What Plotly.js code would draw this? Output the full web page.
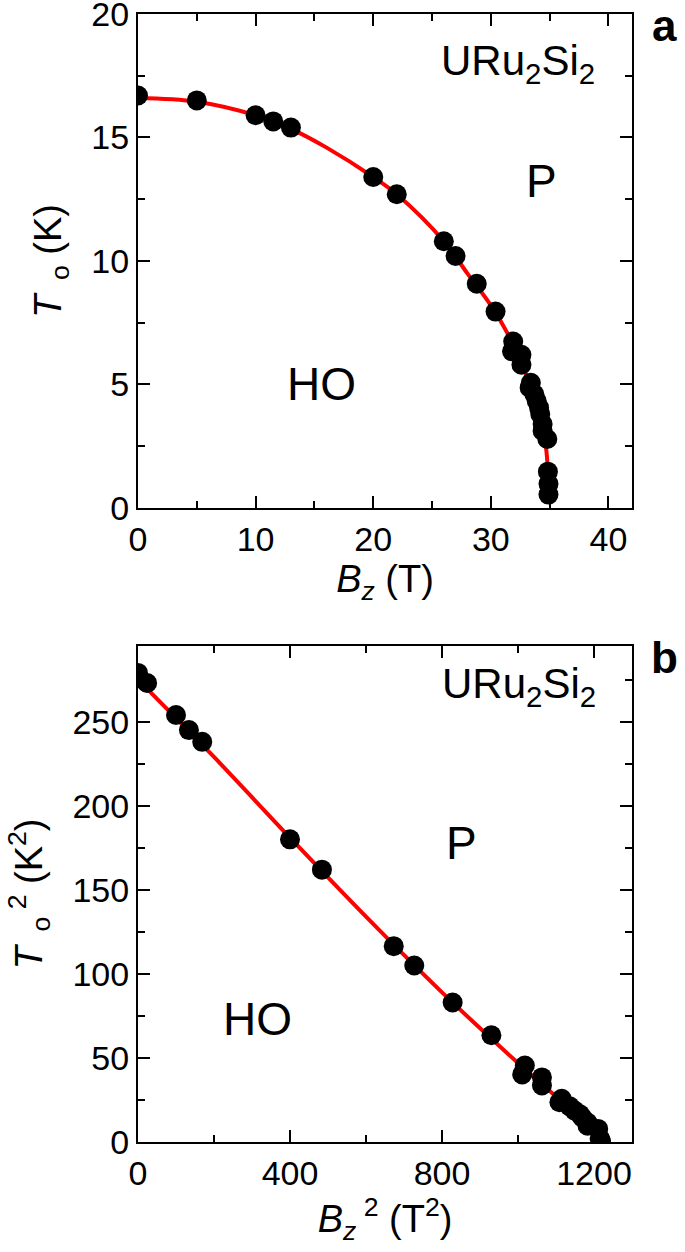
<!DOCTYPE html>
<html>
<head>
<meta charset="utf-8">
<script src="https://cdn.plot.ly/plotly-3.0.1.min.js"></script>
<style>
  html, body { margin: 0; padding: 0; background: #fff; }
  #chart { width: 685px; height: 1252px; }
</style>
</head>
<body>
<div id="chart"></div>
<script>
// Panel a: T_o gegen B_z (Punkte)
var bz = [0, 5, 10, 11.5, 13, 20, 22, 26, 27, 28.8, 30.4, 31.9, 31.8, 32.6, 32.6,
          33.4, 33.3, 33.7, 33.9, 34.1, 34.2, 34.4, 34.4, 34.8, 34.85, 34.9, 34.9];
var tO = [16.7, 16.5, 15.9, 15.65, 15.4, 13.4, 12.7, 10.8, 10.2, 9.08, 7.95, 6.74, 6.34, 6.2, 5.8,
          5.07, 4.87, 4.6, 4.33, 4.06, 3.8, 3.4, 3.12, 2.79, 1.47, 0.98, 0.54];
var fitBz = [0, 5, 10, 13, 16, 20, 22, 26, 28, 30, 31.5, 32.5, 33.3, 33.9, 34.4, 34.7, 34.85, 34.95];
var fitT  = [16.6, 16.45, 15.9, 15.35, 14.6, 13.4, 12.7, 10.8, 9.5, 8.2, 7.0, 6.0, 5.0, 4.2, 3.2, 2.4, 1.5, 0.5];

// Panel b: T_o^2 gegen B_z^2
var bz2 = [0, 24, 100, 134, 169, 400, 484, 673, 727, 828, 930, 1018, 1011, 1063, 1063,
           1115, 1109, 1136, 1149, 1163, 1170, 1183, 1183, 1211, 1215, 1218, 1218];
var tO2 = [279, 273, 254, 245, 238, 180, 162, 116.5, 105, 83, 63.5, 45.5, 40.2, 38.4, 33.6,
           25.7, 23.7, 21.2, 18.7, 16.5, 14.4, 11.6, 9.7, 7.8, 2.2, 1.0, 0.3];
var fitBz2 = [0, 200, 400, 600, 800, 1000, 1100, 1225];
var fitT2  = [275, 229, 181, 134, 89, 47, 27, 0];

var fontFam = 'Liberation Sans, Arial, sans-serif';

var traces = [
  { x: fitBz, y: fitT, mode: 'lines', line: { color: '#ff0000', width: 4, shape: 'spline' },
    xaxis: 'x', yaxis: 'y', hoverinfo: 'skip' },
  { x: bz, y: tO, mode: 'markers', marker: { color: '#000', size: 20 },
    xaxis: 'x', yaxis: 'y' },
  { x: fitBz2, y: fitT2, mode: 'lines', line: { color: '#ff0000', width: 4, shape: 'spline' },
    xaxis: 'x2', yaxis: 'y2', hoverinfo: 'skip' },
  { x: bz2, y: tO2, mode: 'markers', marker: { color: '#000', size: 20 },
    xaxis: 'x2', yaxis: 'y2' }
];

function achse(extra) {
  var a = {
    showline: true, linecolor: '#000', linewidth: 2, mirror: 'allticks',
    ticks: 'inside', ticklen: 12, tickwidth: 2, tickcolor: '#000',
    showgrid: false, zeroline: false, automargin: false,
    ticklabeloverflow: 'allow',
    tickfont: { family: fontFam, size: 34, color: '#000' }
  };
  for (var k in extra) a[k] = extra[k];
  return a;
}

var titelFont = { family: fontFam, size: 38, color: '#000' };

var layout = {
  width: 685, height: 1252,
  margin: { l: 138, r: 53, t: 14, b: 110 },
  showlegend: false,
  paper_bgcolor: '#fff', plot_bgcolor: '#fff',
  xaxis: achse({ domain: [0, 1], range: [0, 42], dtick: 10, tick0: 0, anchor: 'y',
    minor: { dtick: 5, ticks: 'inside', ticklen: 7, tickwidth: 2, tickcolor: '#000' },
    title: { text: '<i>B<sub>z</sub></i> (T)', font: titelFont, standoff: 0 } }),
  yaxis: achse({ domain: [0.5621, 1], range: [0, 20], tickvals: [0, 5, 10, 15, 20], anchor: 'x',
    minor: { dtick: 2.5, ticks: 'inside', ticklen: 7, tickwidth: 2, tickcolor: '#000' },
    title: { text: '<i>T</i><sub>  o</sub> (K)', font: titelFont, standoff: 18 } }),
  xaxis2: achse({ domain: [0, 1], range: [0, 1300], dtick: 400, tick0: 0, anchor: 'y2',
    minor: { dtick: 200, ticks: 'inside', ticklen: 7, tickwidth: 2, tickcolor: '#000' },
    title: { text: '<i>B<sub>z</sub></i><sup> 2</sup> (T<sup>2</sup>)', font: titelFont, standoff: 0 } }),
  yaxis2: achse({ domain: [0, 0.4397], range: [0, 295], dtick: 50, tick0: 0, anchor: 'x2',
    minor: { dtick: 25, ticks: 'inside', ticklen: 7, tickwidth: 2, tickcolor: '#000' },
    title: { text: '<i>T</i><sub>  o</sub><sup> 2</sup> (K<sup>2</sup>)', font: titelFont, standoff: 18 } }),
  annotations: [
    { xref: 'x', yref: 'y', x: 32.3, y: 18.0, text: 'URu<sub>2</sub>Si<sub>2</sub>', showarrow: false,
      font: { family: fontFam, size: 42, color: '#000' } },
    { xref: 'x', yref: 'y', x: 34.3, y: 13.25, text: 'P', showarrow: false,
      font: { family: fontFam, size: 46, color: '#000' } },
    { xref: 'x', yref: 'y', x: 15.6, y: 5.0, text: 'HO', showarrow: false,
      font: { family: fontFam, size: 46, color: '#000' } },
    { xref: 'x2', yref: 'y2', x: 1003, y: 271, text: 'URu<sub>2</sub>Si<sub>2</sub>', showarrow: false,
      font: { family: fontFam, size: 42, color: '#000' } },
    { xref: 'x2', yref: 'y2', x: 852, y: 178, text: 'P', showarrow: false,
      font: { family: fontFam, size: 46, color: '#000' } },
    { xref: 'x2', yref: 'y2', x: 314, y: 73, text: 'HO', showarrow: false,
      font: { family: fontFam, size: 46, color: '#000' } },
    { xref: 'paper', yref: 'paper', x: 1.065, y: 1.013, xanchor: 'center', yanchor: 'top',
      text: '<b>a</b>', showarrow: false, font: { family: fontFam, size: 44, color: '#000' } },
    { xref: 'paper', yref: 'paper', x: 1.065, y: 0.4397 + 0.013, xanchor: 'center', yanchor: 'top',
      text: '<b>b</b>', showarrow: false, font: { family: fontFam, size: 44, color: '#000' } }
  ]
};

Plotly.newPlot('chart', traces, layout, { displayModeBar: false, staticPlot: true });
</script>
</body>
</html>
